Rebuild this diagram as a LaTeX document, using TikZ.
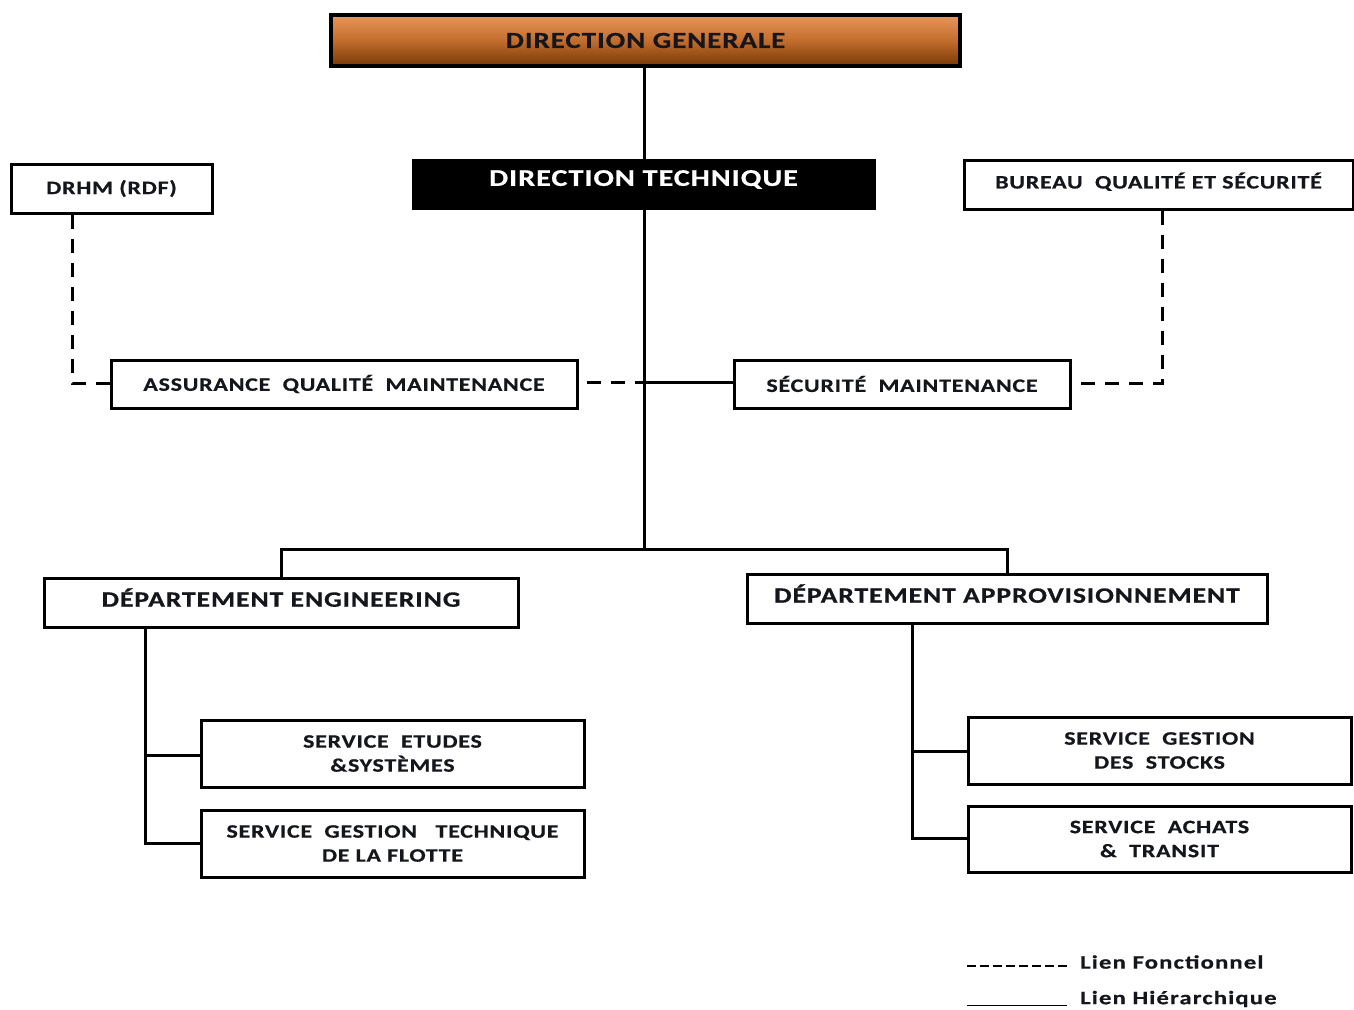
\documentclass[tikz,border=0pt]{standalone}
\usepackage{fontspec}
\setmainfont{Carlito}
\newfontfamily\boxfont{Carlito}[LetterSpace=4, FakeStretch=1.26, FakeBold=0.6]
\newfontfamily\keyfont{Carlito}[LetterSpace=6, FakeStretch=1.3, FakeBold=0.6]
\definecolor{dgtop}{HTML}{E9975C}
\definecolor{dgmid}{HTML}{C26D2C}
\definecolor{dgbot}{HTML}{773806}
\definecolor{ink}{HTML}{14161C}
\begin{document}
\begin{tikzpicture}[x=1pt,y=-1pt,
  unit/.style={draw=black, line width=3pt, fill=white, inner sep=0pt, align=center,
    text=ink, font=\boxfont\bfseries\fontsize{19}{24}\selectfont},
  head/.style={unit, line width=4pt, font=\boxfont\bfseries\fontsize{23}{28}\selectfont},
  dept/.style={unit, font=\boxfont\bfseries\fontsize{22}{28}\selectfont},
  svc/.style={unit, font=\boxfont\bfseries\fontsize{19}{24}\selectfont},
  hier/.style={line width=3pt, line cap=rect},
  func/.style={line width=3pt, dash pattern=on 14pt off 10pt},
  legendtext/.style={anchor=west, inner sep=0pt, text=ink, font=\keyfont\bfseries\fontsize{19}{24}\selectfont}
]
\useasboundingbox (0,0) rectangle (1354,1009);

% top of the hierarchy
\node[head, top color=dgtop, bottom color=dgbot, middle color=dgmid,
      minimum width=629, minimum height=51] (dg) at (645.5,40.5) {DIRECTION GENERALE};
\node[unit, fill=black, draw=black, text=white, minimum width=461, minimum height=48,
      text depth=12pt, font=\boxfont\bfseries\fontsize{24}{28}\selectfont] (dt) at (643.5,184) {DIRECTION TECHNIQUE};

% side units
\node[unit, minimum width=201, minimum height=49] (drhm) at (111.5,188.5) {DRHM (RDF)};
\node[unit, minimum width=389, minimum height=49, text depth=8pt] (bqs) at (1158.5,184.5) {BUREAU \ QUALITÉ ET SÉCURITÉ};
\node[unit, minimum width=466, minimum height=48] (aqm) at (344,384) {ASSURANCE \ QUALITÉ \ MAINTENANCE};
\node[unit, minimum width=336, minimum height=48] (sm) at (902,384) {SÉCURITÉ \ MAINTENANCE};

% departments
\node[dept, minimum width=474, minimum height=49, text depth=10pt] (de) at (281,602.5) {DÉPARTEMENT ENGINEERING};
\node[dept, minimum width=520, minimum height=49, text depth=10pt] (da) at (1007,598.5) {DÉPARTEMENT APPROVISIONNEMENT};

% services
\node[svc, minimum width=383, minimum height=67] (ses) at (392.5,753.5) {SERVICE \ ETUDES\\\&SYSTÈMES};
\node[svc, minimum width=383, minimum height=67] (sgt) at (392.5,843.5) {SERVICE \ GESTION \ \ TECHNIQUE\\DE LA FLOTTE};
\node[svc, minimum width=383, minimum height=67] (sgs) at (1159.5,750.5) {SERVICE \ GESTION\\DES \ STOCKS};
\node[svc, minimum width=383, minimum height=66] (sat) at (1159.5,839) {SERVICE \ ACHATS\\\& \ TRANSIT};

% junction points
\coordinate (trunk) at (644,382);
\coordinate (bus) at (644,549);
\coordinate (busl) at (281,549);
\coordinate (busr) at (1007,549);
\coordinate (drhmc) at (72,383);
\coordinate (bqsc) at (1162,383);
\coordinate (engb) at (145,843);
\coordinate (engm) at (145,755);
\coordinate (appb) at (912,838);
\coordinate (appm) at (912,751);

% hierarchical links
\draw[hier] (dg.south -| trunk) -- (dt.north -| trunk);
\draw[hier] (dt.south -| trunk) -- (bus);
\draw[hier] (trunk) -- (sm.west |- trunk);
\draw[hier] (busl) -- (busr);
\draw[hier] (busl) -- (de.north -| busl);
\draw[hier] (busr) -- (da.north -| busr);
\draw[hier] (de.south -| engb) -- (engb) -- (sgt.west |- engb);
\draw[hier] (engm) -- (ses.west |- engm);
\draw[hier] (da.south -| appb) -- (appb) -- (sat.west |- appb);
\draw[hier] (appm) -- (sgs.west |- appm);

% functional links
\draw[func] (aqm.east |- trunk) ++(8,0) -- (trunk);
\draw[func] (drhm.south -| drhmc) -- (drhmc) -- (aqm.west |- drhmc);
\draw[func] (bqs.south -| bqsc) -- (bqsc) -- (sm.east |- bqsc);

% legend
\coordinate (lf0) at (967,966);
\coordinate (lf1) at (1069,966);
\coordinate (lh0) at (967,1005);
\coordinate (lh1) at (1067,1005);
\draw[line width=2.5pt, dash pattern=on 9pt off 4pt] (lf0) -- (lf1);
\draw[line width=1pt] (lh0) -- (lh1);
\node[legendtext] (lft) at (1080,962) {Lien Fonctionnel};
\node[legendtext] (lht) at (1080,999) {Lien Hiérarchique};
\end{tikzpicture}
\end{document}
